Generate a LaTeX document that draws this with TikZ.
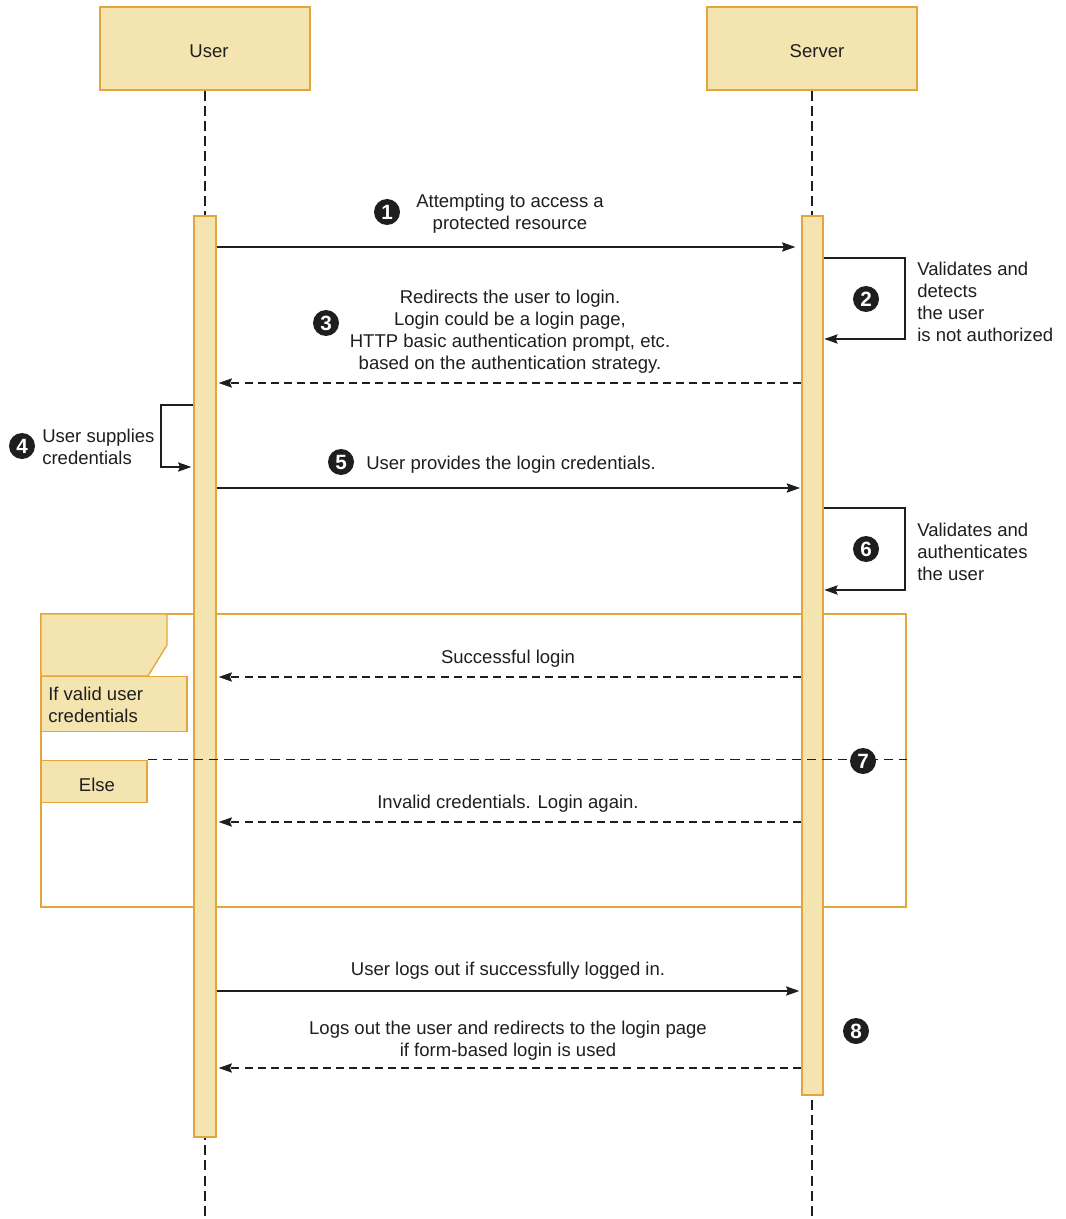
\documentclass[tikz,border=0pt]{standalone}
\usepackage{fontspec}
\setmainfont{Liberation Sans}
\usetikzlibrary{arrows.meta,shapes.geometric}
\definecolor{boxfill}{HTML}{F4E4AF}
\definecolor{boxline}{HTML}{E3A63C}
\definecolor{ink}{HTML}{1E1E1E}
\tikzset{
  actor/.style={draw=boxline, line width=1.1pt, fill=boxfill, minimum width=157.5pt, minimum height=62.25pt, inner sep=0pt},
  bar/.style={draw=boxline, line width=1pt, fill=boxfill, inner sep=0pt},
  lifeline/.style={draw=ink, line width=0.8pt, dash pattern=on 7.5pt off 3.8pt},
  msg/.style={draw=ink, line width=0.8pt, -{Stealth[length=10pt,width=7pt,inset=1.5pt]}},
  reply/.style={msg, dash pattern=on 6pt off 3.8pt},
  lbl/.style={inner sep=0pt, text=ink, align=center, font=\fontsize{13.9}{16.5}\selectfont},
  lbll/.style={lbl, align=left, anchor=west},
  badge/.style={circle, fill=ink, text=white, minimum size=19.5pt, inner sep=0pt, font=\fontsize{15.5}{15.5}\selectfont\bfseries},
  framebox/.style={draw=boxline, line width=1pt},
  tab/.style={draw=boxline, line width=1pt, fill=boxfill},
}
\begin{document}
\begin{tikzpicture}[x=0.75pt, y=-0.75pt]
\useasboundingbox (0,0) rectangle (1065,1219);
% actors
\node[actor] (user) at (205,48.5) {};
\node[actor] (server) at (812,48.5) {};
\node[lbl] (usertxt) at (209,51.5) {User};
\node[lbl] (servertxt) at (817,51.5) {Server};
\coordinate (uend) at (205,1219);
\coordinate (send) at (812,1219);
\draw[lifeline] (user.south) -- (uend);
\draw[lifeline] (server.south) -- (send);
% combined fragment frame
\node[framebox, minimum width=648.75pt, minimum height=219.75pt, inner sep=0pt] (alt) at (473.5,760.5) {};
\draw[tab] (41,614) -- (167,614) -- (167,645) -- (148,676) -- (41,676) -- cycle;
% activation bars
\node[bar, minimum width=16.5pt, minimum height=690.75pt] (ubar) at (205,676.5) {};
\node[bar, minimum width=15.75pt, minimum height=659.25pt] (sbar) at (812.5,655.5) {};
% fragment labels
\node[tab, minimum width=109.5pt, minimum height=41.25pt, inner sep=0pt] (ifbox) at (114,704) {};
\node[lbll] (iftxt) at (48,705) {If valid user\\credentials};
\node[tab, minimum width=79.5pt, minimum height=31.5pt, inner sep=0pt] (elsebox) at (94,781.5) {};
\node[lbl] (elsetxt) at (97,785) {Else};
\draw[lifeline, line width=0.9pt, dash pattern=on 7pt off 4.5pt] (elsebox.north east) -- (alt.east |- elsebox.north east);
% message 1
\draw[msg, shorten >=4.5pt] (ubar.east |- 0,247) -- (sbar.west |- 0,247);
\node[badge] (b1) at (387,212) {1};
\node[lbl] (t1) at (510,214) {Attempting to access a\\protected resource};
% self loop 2
\draw[msg, shorten >=0.5pt] (sbar.east |- 0,258) -- (905,258) -- (905,339) -- (sbar.east |- 0,339);
\node[badge] (b2) at (866,299) {2};
\node[lbll] (t2) at (917,302) {Validates and\\detects\\the user\\is not authorized};
% message 3
\draw[reply, shorten >=1.5pt] (sbar.west |- 0,383) -- (ubar.east |- 0,383);
\node[badge] (b3) at (326,323) {3};
\node[lbl] (t3) at (510,332) {Redirects the user to login.\\Login could be a login page,\\HTTP basic authentication prompt, etc.\\based on the authentication strategy.};
% self loop 4
\draw[msg, shorten >=1.5pt] (ubar.west |- 0,405) -- (161,405) -- (161,467) -- (ubar.west |- 0,467);
\node[badge] (b4) at (22,446) {4};
\node[lbll] (t4) at (42,447) {User supplies\\credentials};
% message 5
\draw[msg, shorten >=1pt] (ubar.east |- 0,488) -- (sbar.west |- 0,488);
\node[badge] (b5) at (341,462) {5};
\node[lbl] (t5) at (511,465) {User provides the login credentials.};
% self loop 6
\draw[msg, shorten >=0.5pt] (sbar.east |- 0,508) -- (905,508) -- (905,590) -- (sbar.east |- 0,590);
\node[badge] (b6) at (866,549) {6};
\node[lbll] (t6) at (917,552) {Validates and\\authenticates\\the user};
% successful login
\draw[reply, shorten >=1.5pt] (sbar.west |- 0,677) -- (ubar.east |- 0,677);
\node[lbl] (t7a) at (508,659) {Successful login};
\node[badge] (b7) at (863,761) {7};
% invalid
\draw[reply, shorten >=1.5pt] (sbar.west |- 0,822) -- (ubar.east |- 0,822);
\node[lbl] (t7b) at (508,804) {Invalid credentials. Login again.};
% logout
\draw[msg, shorten >=1.5pt] (ubar.east |- 0,991) -- (sbar.west |- 0,991);
\node[lbl] (t8a) at (508,971) {User logs out if successfully logged in.};
\draw[reply, shorten >=1.5pt] (sbar.west |- 0,1068) -- (ubar.east |- 0,1068);
\node[lbl] (t8b) at (508,1041) {Logs out the user and redirects to the login page\\if form-based login is used};
\node[badge] (b8) at (856,1031) {8};
\end{tikzpicture}
\end{document}
